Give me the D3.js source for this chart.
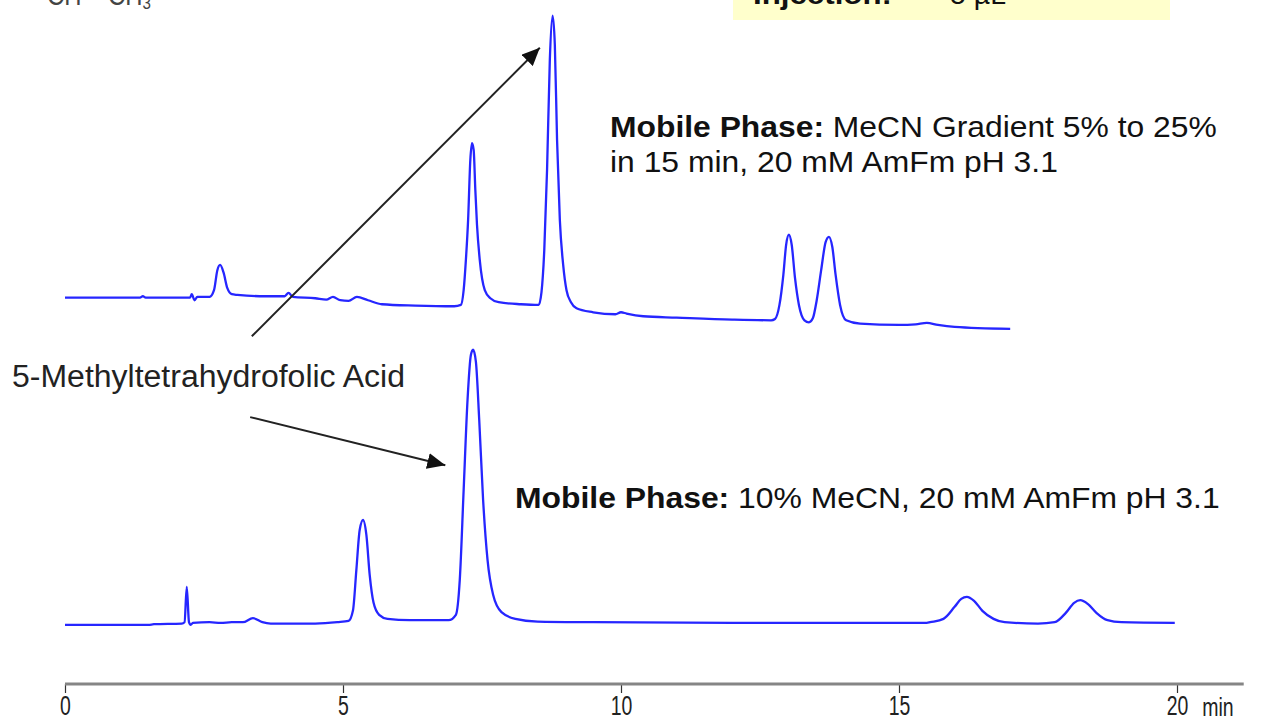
<!DOCTYPE html>
<html>
<head>
<meta charset="utf-8">
<script src="https://cdn.jsdelivr.net/npm/d3@7"></script>
<style>
body { margin: 0; background: #fff; }
svg { display: block; font-family: "Liberation Sans", Arial, sans-serif; }
</style>
</head>
<body>
<div id="chart"></div>
<script>
const width = 1261, height = 718;

// [retention time (min), detector response (arbitrary units)]
const gradientRun = [
	[0, 57.7], [1.35, 57.7], [1.4, 57.9], [1.45, 57.7], [2.25, 57.7], [2.28, 58.2], [2.33, 57.3], [2.38, 57.8],
	[2.6, 57.8], [2.68, 58.8], [2.74, 61.8], [2.79, 62.6], [2.85, 61.5], [2.92, 59.1], [3.0, 58.2], [3.1, 58.1],
	[3.6, 57.9], [3.95, 57.9], [4.02, 58.4], [4.1, 57.8], [4.5, 57.6], [4.7, 57.4], [4.82, 57.8], [4.95, 57.3],
	[5.1, 57.2], [5.25, 57.8], [5.45, 57.3], [5.7, 56.7], [6.3, 56.5], [7.0, 56.4], [7.12, 56.6], [7.17, 58.8],
	[7.21, 63.3], [7.25, 69.3], [7.29, 78.3], [7.32, 80.8], [7.35, 79.8], [7.38, 73.8], [7.41, 68.6], [7.46, 63.3],
	[7.55, 58.8], [7.65, 57.6], [7.8, 57.0], [8.2, 56.7], [8.52, 56.6], [8.57, 58.5], [8.62, 64.8], [8.67, 76.8],
	[8.72, 93.3], [8.77, 99.9], [8.81, 95.5], [8.85, 81.3], [8.9, 69.3], [8.96, 62.6], [9.02, 58.8], [9.1, 57.0],
	[9.2, 56.1], [9.5, 55.5], [9.9, 55.2], [10.0, 55.5], [10.1, 55.3], [10.4, 54.9], [11.0, 54.7], [12.0, 54.4],
	[12.7, 54.3], [12.77, 54.5], [12.85, 56.6], [12.92, 61.1], [12.97, 65.6], [13.02, 67.1], [13.07, 65.6], [13.13, 60.6],
	[13.2, 56.6], [13.3, 54.3], [13.38, 54.0], [13.45, 54.6], [13.52, 57.3], [13.6, 61.8], [13.68, 66.0], [13.74, 66.8],
	[13.8, 65.3], [13.86, 61.1], [13.94, 56.6], [14.05, 54.3], [14.3, 53.8], [15.0, 53.6], [15.3, 53.7], [15.5, 53.9],
	[15.7, 53.6], [16.0, 53.3], [17.0, 53.0]
];

const isocraticRun = [
	[0, 8.7], [1.5, 8.7], [1.6, 8.8], [2.1, 8.9], [2.15, 9.1], [2.19, 14.4], [2.23, 9.1], [2.26, 8.7], [2.3, 9.0],
	[2.6, 9.1], [2.8, 9.0], [3.0, 9.1], [3.2, 9.1], [3.38, 9.7], [3.55, 9.1], [3.7, 8.9], [4.5, 8.9], [4.9, 9.1],
	[5.1, 9.3], [5.18, 10.9], [5.24, 16.9], [5.3, 22.9], [5.36, 24.4], [5.42, 22.2], [5.48, 16.2], [5.55, 12.0],
	[5.65, 10.2], [5.8, 9.6], [6.2, 9.4], [6.9, 9.4], [7.03, 10.2], [7.1, 15.4], [7.17, 28.9], [7.24, 42.4],
	[7.3, 49.1], [7.34, 49.9], [7.39, 48.1], [7.45, 39.4], [7.52, 27.4], [7.6, 18.4], [7.7, 13.2], [7.85, 10.6],
	[8.1, 9.6], [8.5, 9.2], [9.5, 9.1], [12, 9.0], [15.5, 9.0], [15.56, 9.1], [15.8, 9.6], [16.0, 11.4],
	[16.12, 12.6], [16.22, 12.9], [16.35, 12.3], [16.5, 10.8], [16.7, 9.6], [16.9, 9.1], [17.5, 8.9], [17.8, 9.1],
	[18.0, 10.5], [18.15, 12.0], [18.26, 12.4], [18.4, 11.8], [18.55, 10.5], [18.75, 9.4], [19.0, 9.1], [19.96, 9.0]
];

const timeTicks = [0, 5, 10, 15, 20];
const timeUnit = 'min';
const compoundName = '5-Methyltetrahydrofolic Acid';

let x = d3.scaleLinear().domain([0, 20]).range([65, 1177]);
let y = d3.scaleLinear().domain([0, 100]).range([683, 15]);

let svg = d3.select('#chart')
	.append('svg')
	.attr('width', width)
	.attr('height', height);

svg.append('rect').attr('width', width).attr('height', height).attr('fill', '#fff');

// text squeezed horizontally to a given width, like the original slide
function fitText(sel, left, base, target) {
	let len = sel.node().getComputedTextLength();
	sel.attr('transform', `translate(${left},${base}) scale(${target / len},1)`);
	return sel;
}

// header remnants, cut off at the top edge
let head = svg.append('text').attr('font-size', 30).attr('fill', '#444');
head.append('tspan').text('CH – CH');
head.append('tspan').attr('font-size', 19).attr('dy', 4).text('3');
fitText(head, 47, 5, 104);

svg.append('rect')
	.attr('x', 733).attr('y', 0)
	.attr('width', 437).attr('height', 20)
	.attr('fill', '#ffffcc');
let inj = svg.append('text').attr('font-size', 28).attr('fill', '#111')
	.attr('font-weight', 'bold').text('Injection:');
fitText(inj, 753, 4, 139);
let injVol = svg.append('text').attr('font-size', 28).attr('fill', '#111').text('5 µL');
fitText(injVol, 950, 4, 56);

// traces
let line = d3.line()
	.x(d => x(d[0]))
	.y(d => y(d[1]))
	.curve(d3.curveMonotoneX);

svg.selectAll('path.trace')
	.data([gradientRun, isocraticRun])
	.join('path')
	.attr('class', 'trace')
	.attr('d', line)
	.attr('fill', 'none')
	.attr('stroke', '#2626ff')
	.attr('stroke-width', 2.3)
	.attr('stroke-linejoin', 'round');

// time axis
let axis = svg.append('g')
	.attr('transform', `translate(0,${y(0) + 1})`)
	.call(d3.axisBottom(x).tickValues(timeTicks).tickSize(9).tickPadding(3).tickFormat(d3.format('d')));

axis.select('.domain').remove();
axis.append('line')
	.attr('x1', x(0)).attr('x2', x(21.2))
	.attr('stroke', '#858585')
	.attr('stroke-width', 2.8);
axis.selectAll('.tick line').attr('stroke', '#333').attr('stroke-width', 1.2);
axis.selectAll('.tick text')
	.attr('font-size', 27)
	.attr('font-family', '"Liberation Sans", Arial, sans-serif')
	.attr('fill', '#222')
	.attr('transform', 'scale(0.72,1)');
axis.append('text')
	.attr('x', x(20) + 41).attr('y', 32)
	.attr('font-size', 25)
	.attr('fill', '#222')
	.attr('transform-origin', `${x(20) + 41} 32`)
	.attr('transform', 'scale(0.78,1)')
	.text(timeUnit);

// annotations
let label = svg.append('text').attr('font-size', 31).attr('fill', '#222').text(compoundName);
fitText(label, 12, 387, 393);

let phaseTop = svg.append('text').attr('font-size', 30).attr('fill', '#111');
phaseTop.append('tspan').attr('font-weight', 'bold').text('Mobile Phase: ');
phaseTop.append('tspan').text('MeCN Gradient 5% to 25%');
fitText(phaseTop, 610, 137, 607);

let phaseTop2 = svg.append('text').attr('font-size', 30).attr('fill', '#111')
	.text('in 15 min, 20 mM AmFm pH 3.1');
fitText(phaseTop2, 610, 172, 448);

let phaseBottom = svg.append('text').attr('font-size', 30).attr('fill', '#111');
phaseBottom.append('tspan').attr('font-weight', 'bold').text('Mobile Phase: ');
phaseBottom.append('tspan').text('10% MeCN, 20 mM AmFm pH 3.1');
fitText(phaseBottom, 515, 508, 705);

svg.append('defs').append('marker')
	.attr('id', 'head')
	.attr('markerUnits', 'userSpaceOnUse')
	.attr('markerWidth', 20).attr('markerHeight', 16)
	.attr('refX', 18).attr('refY', 8)
	.attr('orient', 'auto')
	.append('path')
	.attr('d', 'M0,0 L18,8 L0,16 Z')
	.attr('fill', '#111');

// arrow ends in [time, response]
let arrows = [
	[[3.36, 51.9], [8.54, 95.1]],
	[[3.33, 39.8], [6.84, 32.6]]
];

svg.selectAll('line.arrow')
	.data(arrows)
	.join('line')
	.attr('class', 'arrow')
	.attr('x1', d => x(d[0][0])).attr('y1', d => y(d[0][1]))
	.attr('x2', d => x(d[1][0])).attr('y2', d => y(d[1][1]))
	.attr('stroke', '#222')
	.attr('stroke-width', 2)
	.attr('marker-end', 'url(#head)');
</script>
</body>
</html>
